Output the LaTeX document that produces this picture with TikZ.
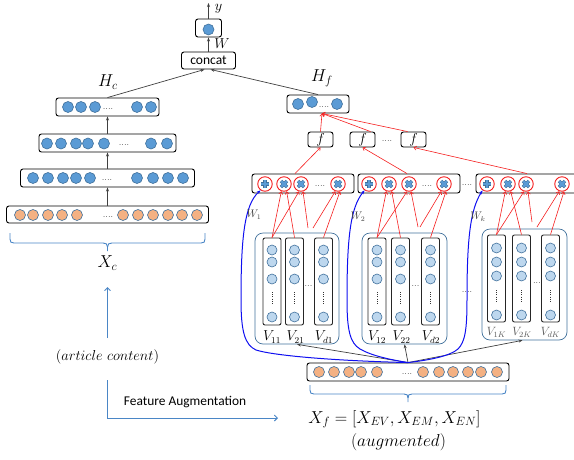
\documentclass[tikz,border=0pt]{standalone}
\usepackage{fontspec}
\newfontfamily\calibri{Carlito}
\usetikzlibrary{arrows.meta,calc}
\definecolor{dotblue}{RGB}{91,155,213}
\definecolor{dotedge}{RGB}{65,113,156}
\definecolor{dotorange}{RGB}{244,177,131}
\definecolor{dotlight}{RGB}{189,215,238}
\definecolor{linkblue}{RGB}{74,134,198}
\definecolor{opred}{RGB}{245,30,30}
\definecolor{wblue}{RGB}{15,15,240}
\begin{document}
\begin{tikzpicture}[x=1pt,y=-1pt,
  layer/.style={draw=black, rounded corners=2.5pt, line width=0.9pt, fill=white, inner sep=0pt},
  bdot/.style={circle, draw=dotedge, fill=dotblue, minimum size=11pt, inner sep=0pt, line width=0.6pt},
  odot/.style={bdot, fill=dotorange},
  ldot/.style={bdot, fill=dotlight, minimum size=10pt},
  embcol/.style={draw=black!85, rounded corners=2pt, line width=0.9pt, minimum width=18pt, minimum height=87pt, inner sep=0pt},
  grp/.style={draw=dotedge, rounded corners=8pt, line width=0.7pt, inner sep=0pt},
  ell/.style={inner sep=0pt, font=\fontsize{9}{9}\selectfont},
  vdot/.style={draw=black!80, line width=1pt, dash pattern=on 0.9pt off 1.3pt},
  opnode/.style={circle, draw=opred, line width=0.9pt, minimum size=14.5pt, inner sep=0pt, fill=white},
  plusop/.style={opnode, path picture={
      \draw[dotedge, line width=3.4pt] ([xshift=-4pt]path picture bounding box.center) -- ([xshift=4pt]path picture bounding box.center)
        ([yshift=-4pt]path picture bounding box.center) -- ([yshift=4pt]path picture bounding box.center);
      \draw[dotblue, line width=2.2pt] ([xshift=-3.6pt]path picture bounding box.center) -- ([xshift=3.6pt]path picture bounding box.center)
        ([yshift=-3.6pt]path picture bounding box.center) -- ([yshift=3.6pt]path picture bounding box.center);}},
  timesop/.style={opnode, path picture={
      \draw[dotedge, line width=3.4pt] ([shift={(-3pt,-3pt)}]path picture bounding box.center) -- ([shift={(3pt,3pt)}]path picture bounding box.center)
        ([shift={(-3pt,3pt)}]path picture bounding box.center) -- ([shift={(3pt,-3pt)}]path picture bounding box.center);
      \draw[dotblue, line width=2.2pt] ([shift={(-2.7pt,-2.7pt)}]path picture bounding box.center) -- ([shift={(2.7pt,2.7pt)}]path picture bounding box.center)
        ([shift={(-2.7pt,2.7pt)}]path picture bounding box.center) -- ([shift={(2.7pt,-2.7pt)}]path picture bounding box.center);}},
  fbox/.style={layer, minimum width=25pt, minimum height=15pt, font=\fontsize{14}{14}\selectfont},
  graylink/.style={draw=black!75, line width=0.7pt, -{Stealth[length=4pt,width=3pt]}},
  redlink/.style={draw=opred, line width=0.6pt, -{Straight Barb[length=2.5pt,width=4pt]}},
  bluearrow/.style={draw=linkblue, line width=0.9pt, -{Straight Barb[length=3pt,width=6pt]}},
  brace/.style={draw=linkblue, line width=0.9pt},
  wcurve/.style={draw=wblue, line width=1pt, -{Stealth[length=4pt,width=3pt]}},
  mlab/.style={inner sep=0pt, font=\fontsize{16.5}{18}\selectfont},
  vlab/.style={inner sep=0pt, font=\fontsize{13.5}{15}\selectfont},
  wlab/.style={inner sep=0pt, text=black!75, font=\fontsize{10.5}{11}\selectfont},
]
\useasboundingbox (0,0) rectangle (574,459);
\clip (0,0) rectangle (574,459);

% ---------------- content branch (left) ----------------
\node[layer, minimum width=202pt, minimum height=17pt] (xc) at (107.5,214.5) {};
\foreach \x [count=\i] in {20,33,48,62,77,123,138,153,168,182,197}
  \node[odot] (xc\i) at (\x,215) {};
\node[ell] (xcdots) at (108,217) {....};

\node[layer, minimum width=174pt, minimum height=18pt] (h1) at (107.5,178) {};
\foreach \x [count=\i] in {33,48,63,76,90,137,153,168,183}
  \node[bdot] (h1d\i) at (\x,178) {};
\node[ell] (h1dots) at (107,180) {....};

\node[layer, minimum width=137pt, minimum height=18pt] (h2) at (107.5,143) {};
\foreach \x [count=\i] in {47,61,76,88,104,151,167}
  \node[bdot] (h2d\i) at (\x,143.5) {};
\node[ell] (h2dots) at (124,145.5) {....};

\node[layer, minimum width=103pt, minimum height=18pt] (h3) at (107.5,107) {};
\foreach \x [count=\i] in {68,81,95,137,151}
  \node[bdot] (h3d\i) at (\x,107) {};
\node[ell] (h3dots) at (108,109.5) {....};
\node[mlab] (hclab) at (108,82) {$H_c$};

\draw[graylink] (xc.north) -- (h1.south);
\draw[graylink] (h1.north) -- (h2.south);
\draw[graylink] (h2.north) -- (h3.south);

% brace under the content vector
\draw[brace] (10,233) -- (10,239) .. controls (10,242) and (11,243) .. (14,243) -- (103,243)
  .. controls (106,243) and (107.5,244) .. (107.5,247) -- (107.5,251);
\draw[brace] (205,233) -- (205,239) .. controls (205,242) and (204,243) .. (201,243) -- (112,243)
  .. controls (109,243) and (107.5,244) .. (107.5,247);
\node[mlab] (xclab) at (107.5,263) {$X_c$};

\coordinate (artup) at (107.5,287);
\coordinate (artlow) at (107.5,338);
\draw[bluearrow] (artlow) -- (artup);
\node[mlab, font=\fontsize{15}{17}\selectfont] (artc) at (107.5,357) {$(article\ content)$};
\coordinate (augstart) at (107.5,380);
\coordinate (augend) at (278,418);
\draw[bluearrow] (augstart) |- (augend);
\node[inner sep=0pt, font=\calibri\fontsize{13.4}{15}\selectfont] (auglab) at (185,402) {Feature Augmentation};

% ---------------- output head ----------------
\node[layer, minimum width=54pt, minimum height=17pt, font=\calibri\fontsize{13.5}{14}\selectfont] (concat) at (208.5,60.5) {concat};
\node[layer, minimum width=26pt, minimum height=18pt] (out) at (208.5,28) {};
\node[bdot] (outd) at (208.5,29.5) {};
\coordinate (ytop) at (208.5,3);
\draw[graylink] (out.north) -- (ytop);
\node[inner sep=0pt, font=\fontsize{14}{14}\selectfont] (ylab) at (218.5,8.5) {$y$};
\draw[graylink] (concat.north) -- (out.south);
\node[inner sep=0pt, font=\fontsize{14}{14}\selectfont] (wlab) at (222,44) {$W$};

% ---------------- feature branch (right) ----------------
\node[layer, minimum width=62pt, minimum height=18pt] (hf) at (318,104) {};
\node[bdot] (hfd1) at (298,104) {};
\node[bdot] (hfd2) at (312,102) {};
\node[bdot] (hfd3) at (337,104) {};
\node[ell] (hfdots) at (324,107) {....};
\node[mlab] (hflab) at (322,78) {$H_f$};

\draw[graylink] (h3.north) -- ([xshift=-4pt]concat.south);
\draw[graylink] (hf.north) -- ([xshift=2pt]concat.south);

\node[fbox] (f1) at (320.5,139.5) {$f$};
\node[fbox] (f2) at (362.5,139.5) {$f$};
\node[fbox] (f3) at (413.5,139.5) {$f$};
\node[ell] (fdots) at (387,141) {....};

\coordinate (hfin) at ($(hf.south)+(4,0)$);
\draw[redlink] (f1.north) -- (hfin);
\draw[redlink] ($(f2.north)+(8,0)$) -- (hfin);
\draw[redlink] ($(f3.north)+(-6,0)$) -- (hfin);

% interaction rows
\node[layer, minimum width=102pt, minimum height=19pt] (ob1) at (303,183.5) {};
\node[layer, minimum width=102pt, minimum height=19pt] (ob2) at (409,183.5) {};
\node[layer, minimum width=104pt, minimum height=19pt] (ob3) at (528,183.5) {};
\node[ell] (obdots) at (467,185) {....};

\node[plusop] (p1) at (265,184) {};
\node[timesop] (t11) at (284,184) {};
\node[timesop] (t12) at (301,184) {};
\node[ell] (o1dots) at (320,186) {....};
\node[timesop] (t14) at (338,184) {};

\node[plusop] (p2) at (369,184) {};
\node[timesop] (t21) at (389,184) {};
\node[timesop] (t22) at (409,184) {};
\node[ell] (o2dots) at (427,186) {....};
\node[timesop] (t24) at (444,184) {};

\node[plusop] (p3) at (487,184) {};
\node[timesop] (t31) at (508,184) {};
\node[timesop] (t32) at (526,184) {};
\node[timesop] (t34) at (562,184) {};

\draw[redlink] ($(ob1.north)+(-8,0)$) -- (f1.south);
\draw[redlink] ($(ob2.north)+(-2,0)$) -- (f2.south);
\draw[redlink] ($(ob3.north)+(-1,0)$) -- (f3.south);

% embedding groups
\node[grp, minimum width=84pt, minimum height=111pt] (g1) at (297,288.5) {};
\node[grp, minimum width=85pt, minimum height=111pt] (g2) at (404.5,288.5) {};
\node[grp, minimum width=85pt, minimum height=111pt] (g3) at (524.5,284.5) {};
\node[ell] (gdots) at (467,292) {....};

% group 1
\foreach \c/\x in {1/272,2/294.5,3/323.5}{
  \node[embcol] (c1\c) at (\x,281.5) {};
  \node[ldot] (c1\c a) at (\x,250) {};
  \node[ldot] (c1\c b) at (\x,262) {};
  \node[ldot] (c1\c c) at (\x,279) {};
  \draw[vdot] (\x,292) -- (\x,305);
  \node[ldot] (c1\c d) at (\x,317) {};
}
\node[ell] (c1dots) at (308.5,286) {...};
\node[vlab] (v11) at (272,337) {$V_{11}$};
\node[vlab] (v21) at (295.5,337) {$V_{21}$};
\node[vlab] (vd1) at (324,337) {$V_{d1}$};

% group 2
\foreach \c/\x in {1/377,2/400.5,3/430.5}{
  \node[embcol] (c2\c) at (\x,281.5) {};
  \node[ldot] (c2\c a) at (\x,250) {};
  \node[ldot] (c2\c b) at (\x,262) {};
  \node[ldot] (c2\c c) at (\x,279) {};
  \draw[vdot] (\x,292) -- (\x,305);
  \node[ldot] (c2\c d) at (\x,317) {};
}
\node[ell] (c2dots) at (415.5,286) {...};
\node[vlab] (v12) at (377,337) {$V_{12}$};
\node[vlab] (v22) at (401.5,337) {$V_{22}$};
\node[vlab] (vd2) at (431,337) {$V_{d2}$};

% group K
\foreach \c/\x in {1/496.5,2/521.5,3/550.5}{
  \node[embcol] (c3\c) at (\x,278.5) {};
  \node[ldot] (c3\c a) at (\x,248) {};
  \node[ldot] (c3\c b) at (\x,262) {};
  \node[ldot] (c3\c c) at (\x,276) {};
  \draw[vdot] (\x,290) -- (\x,303);
  \node[ldot] (c3\c d) at (\x,315) {};
}
\node[ell] (c3dots) at (537,283) {...};
\node[vlab, text=black!65, font=\fontsize{12}{13}\selectfont] (v1k) at (496.5,332) {$V_{1K}$};
\node[vlab, text=black!65, font=\fontsize{12}{13}\selectfont] (v2k) at (522,332) {$V_{2K}$};
\node[vlab, text=black!65, font=\fontsize{12}{13}\selectfont] (vdk) at (550.5,332) {$V_{dK}$};

% pairwise products
\coordinate (e1a) at (308,228); \coordinate (e1b) at (313,228);
\draw[redlink] (c11.north) -- (t11.250);
\draw[redlink] (c11.north) -- (t12.255);
\draw[redlink] (c12.north) -- (t11.290);
\draw[redlink] (e1a) -- (t12.285);
\draw[redlink] (e1b) -- (t14.250);
\draw[redlink] (c13.north) -- (t14.285);

\coordinate (e2a) at (418,227); \coordinate (e2b) at (420,227);
\draw[redlink] (c21.north) -- (t21.250);
\draw[redlink] (c21.north) -- (t22.255);
\draw[redlink] (c22.north) -- (t21.290);
\draw[redlink] (e2a) -- (t22.285);
\draw[redlink] (e2b) -- (t24.250);
\draw[redlink] (c23.north) -- (t24.285);

\coordinate (e3a) at (532,222); \coordinate (e3b) at (537,227);
\draw[redlink] (c31.north) -- (t31.250);
\draw[redlink] (c31.north) -- (t32.255);
\draw[redlink] (c32.north) -- (t31.290);
\draw[redlink] (e3a) -- (t32.285);
\draw[redlink] (e3b) -- (t34.250);
\draw[redlink] (c33.north) -- (t34.285);

% augmented feature vector
\node[layer, minimum width=202pt, minimum height=18pt] (xf) at (408,372) {};
\foreach \x [count=\i] in {319,334,349,361,377,423,439,453,468,481,497}
  \node[odot] (xf\i) at (\x,372) {};
\node[ell] (xfdots) at (407,374) {....};

\draw[graylink] (xf.north) -- (g1.south);
\draw[graylink] (xf.north) -- (g2.south);
\draw[graylink] (xf.north) -- ($(g3.south)+(-2,0)$);

% linear weights W_1 ... W_k
\draw[wcurve] (xf.north) .. controls (340,361) and (275,356) .. (256,350)
  .. controls (245,345) and (241,332) .. (241,300)
  .. controls (241,240) and (244,205) .. (p1.235);
\draw[wcurve] (xf.north) .. controls (392,360) and (372,356) .. (360,349)
  .. controls (350,343) and (347,330) .. (347,300)
  .. controls (347,240) and (350,208) .. (p2.235);
\draw[wcurve] (xf.north) .. controls (430,360) and (450,356) .. (458,349)
  .. controls (465,342) and (467,330) .. (467,300)
  .. controls (467,240) and (470,210) .. (p3.235);
\node[wlab] (w1) at (254,215) {$W_1$};
\node[wlab] (w2) at (358,217) {$W_2$};
\node[wlab] (wk) at (478,217) {$W_k$};

% brace under the augmented vector
\draw[brace] (310,385) -- (310,390) .. controls (310,393) and (311,394) .. (314,394) -- (404,394)
  .. controls (407,394) and (408,395) .. (408,398) -- (408,402);
\draw[brace] (506,385) -- (506,390) .. controls (506,393) and (505,394) .. (502,394) -- (412,394)
  .. controls (409,394) and (408,395) .. (408,398);
\node[mlab, font=\fontsize{17}{19}\selectfont] (xflab) at (394.5,419) {$X_f=[X_{EV},X_{EM},X_{EN}]$};
\node[mlab] (auglab2) at (398.5,442) {$(augmented)$};
\end{tikzpicture}
\end{document}
